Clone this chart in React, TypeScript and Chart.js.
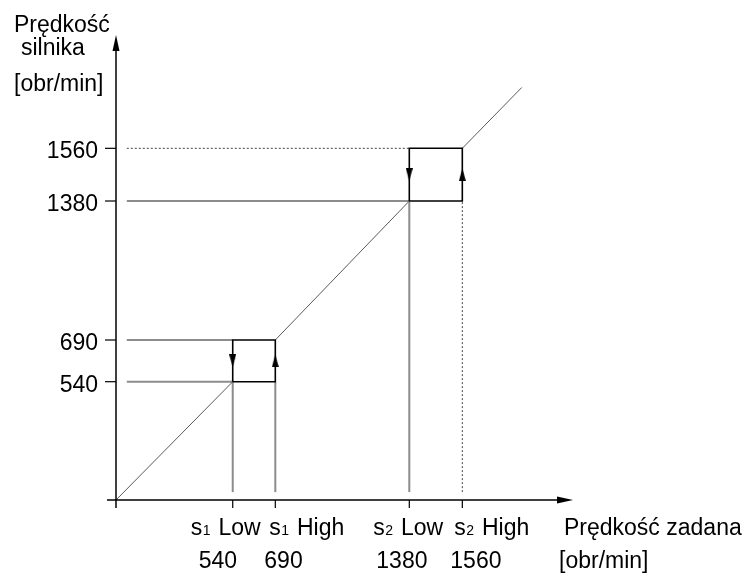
import React, { useEffect, useRef } from 'react';
import { Chart, registerables, LinearScale } from 'chart.js';

// ---- data ----
const thresholdValues = [540, 690, 1380, 1560];
const thresholdNames = ['s₁ Low', 's₁ High', 's₂ Low', 's₂ High'];
const yTickValues = [540, 690, 1380, 1560];
const hysteresisPairs = [
  [540, 690],
  [1380, 1560],
];
const diagonalEnd = 1764;
const guideStart = 50; // guides begin slightly right of the y axis
const guideFloor = 36; // vertical guides stop slightly above the x axis
const yTitleLines = ['Prędkość', 'silnika', '[obr/min]'];
const xTitleLines = ['Prędkość zadana', '[obr/min]'];
const axisMax = 1940;

// schematic (non-linear) axis layout: value knots -> fraction of axis length
const warpValues = [0, 540, 690, 1380, 1560, 1940];
const xWarpFractions = [0, 0.2554, 0.3486, 0.6418, 0.7578, 1];
const yWarpFractions = [0, 0.2544, 0.3441, 0.643, 0.7563, 1];

// ---- style ----
const FONT = "'Liberation Sans', Arial, sans-serif";
const FS = 23;
const labelOffsetsLine1 = [-42, -6, -36, -8];
const labelOffsetsLine2 = [-34, -11, -33, -12];

class WarpScale extends LinearScale {
  static id = 'warp';
  static defaults = {};
  warpDec(v: number): number {
    const k = warpValues;
    const f = this.id === 'x' ? xWarpFractions : yWarpFractions;
    for (let i = 1; i < k.length; i++) {
      if (v <= k[i] || i === k.length - 1) {
        return f[i - 1] + ((v - k[i - 1]) * (f[i] - f[i - 1])) / (k[i] - k[i - 1]);
      }
    }
    return 0;
  }
  getPixelForValue(v: number) {
    return this.getPixelForDecimal(this.warpDec(v));
  }
  getValueForPixel(p: number) {
    const d = this.getDecimalForPixel(p);
    const k = warpValues;
    const f = this.id === 'x' ? xWarpFractions : yWarpFractions;
    for (let i = 1; i < f.length; i++) {
      if (d <= f[i] || i === f.length - 1) {
        return k[i - 1] + ((d - f[i - 1]) * (k[i] - k[i - 1])) / (f[i] - f[i - 1]);
      }
    }
    return 0;
  }
}

Chart.register(...registerables, WarpScale as any);

const SUBS = '₀₁₂₃₄₅₆₇₈₉';

function drawRich(ctx: CanvasRenderingContext2D, text: string, x: number, y: number) {
  let cx = x;
  let run = '';
  const flush = () => {
    if (!run) return;
    ctx.font = `${FS}px ${FONT}`;
    ctx.fillText(run, cx, y);
    cx += ctx.measureText(run).width;
    run = '';
  };
  for (const ch of text) {
    const idx = SUBS.indexOf(ch);
    if (idx >= 0) {
      flush();
      ctx.font = `${Math.round(FS * 0.62)}px ${FONT}`;
      ctx.fillText(String(idx), cx + 0.5, y);
      cx += ctx.measureText(String(idx)).width + 2;
    } else {
      run += ch;
    }
  }
  flush();
}

function makeArrow(): HTMLCanvasElement {
  const c = document.createElement('canvas');
  c.width = 7;
  c.height = 13;
  const g = c.getContext('2d')!;
  g.fillStyle = '#000';
  g.beginPath();
  g.moveTo(3.5, 0);
  g.lineTo(7, 13);
  g.lineTo(0, 13);
  g.closePath();
  g.fill();
  return c;
}

const pt = (x: number, y: number) => ({ x, y });

const decorPlugin = {
  id: 'decor',
  afterDatasetsDraw(chart: any) {
    const ctx: CanvasRenderingContext2D = chart.ctx;
    const xs = chart.scales.x;
    const ys = chart.scales.y;
    const ox = xs.getPixelForValue(0);
    const oy = ys.getPixelForValue(0);
    const right = chart.chartArea.right;
    const top = chart.chartArea.top;
    ctx.save();
    ctx.strokeStyle = '#000';
    ctx.fillStyle = '#000';
    ctx.lineWidth = 1.5;
    // x axis
    ctx.beginPath();
    ctx.moveTo(ox - 9, oy);
    ctx.lineTo(right - 14, oy);
    ctx.stroke();
    ctx.beginPath();
    ctx.moveTo(right, oy);
    ctx.lineTo(right - 16, oy - 3.5);
    ctx.lineTo(right - 16, oy + 3.5);
    ctx.closePath();
    ctx.fill();
    // y axis
    ctx.beginPath();
    ctx.moveTo(ox, oy + 8);
    ctx.lineTo(ox, top + 14);
    ctx.stroke();
    ctx.beginPath();
    ctx.moveTo(ox, top);
    ctx.lineTo(ox - 3.5, top + 16);
    ctx.lineTo(ox + 3.5, top + 16);
    ctx.closePath();
    ctx.fill();
    // ticks
    ctx.lineWidth = 1.2;
    thresholdValues.forEach((v) => {
      const px = xs.getPixelForValue(v);
      ctx.beginPath();
      ctx.moveTo(px, oy);
      ctx.lineTo(px, oy + 8);
      ctx.stroke();
    });
    yTickValues.forEach((v) => {
      const py = ys.getPixelForValue(v);
      ctx.beginPath();
      ctx.moveTo(ox - 11, py);
      ctx.lineTo(ox, py);
      ctx.stroke();
    });
    // text
    ctx.textBaseline = 'alphabetic';
    ctx.textAlign = 'right';
    ctx.font = `${FS}px ${FONT}`;
    yTickValues.forEach((v) => {
      const py = ys.getPixelForValue(v);
      ctx.fillText(String(v), ox - 18, py + 10);
    });
    ctx.textAlign = 'left';
    thresholdValues.forEach((v, i) => {
      const px = xs.getPixelForValue(v);
      drawRich(ctx, thresholdNames[i], px + labelOffsetsLine1[i], oy + 35);
      ctx.font = `${FS}px ${FONT}`;
      ctx.fillText(String(v), px + labelOffsetsLine2[i], oy + 68);
    });
    ctx.font = `${FS}px ${FONT}`;
    ctx.fillText(yTitleLines[0], 14, 32);
    ctx.fillText(yTitleLines[1], 21, 55);
    ctx.fillText(yTitleLines[2], 14, 91);
    ctx.fillText(xTitleLines[0], right - 9, oy + 35);
    ctx.fillText(xTitleLines[1], right - 14, oy + 68);
    ctx.restore();
  },
};

export default function App() {
  const ref = useRef<HTMLCanvasElement>(null);
  useEffect(() => {
    const canvas = ref.current!;
    const arrow = makeArrow();
    const line = (data: any[], color: string, width: number, dash: number[] = []) => ({
      data,
      borderColor: color,
      borderWidth: width,
      borderDash: dash,
      pointRadius: 0,
      fill: false,
      tension: 0,
    });
    const datasets: any[] = [];
    // arrows on the hysteresis boxes
    datasets.push({
      data: hysteresisPairs.flatMap(([lo, hi]) => [pt(lo, (lo + hi) / 2), pt(hi, (lo + hi) / 2)]),
      showLine: false,
      pointStyle: arrow,
      pointRadius: 5,
      pointRotation: hysteresisPairs.flatMap(() => [180, 0]),
    });
    // hysteresis boxes
    hysteresisPairs.forEach(([lo, hi]) => {
      datasets.push(line([pt(lo, lo), pt(hi, lo), pt(hi, hi), pt(lo, hi), pt(lo, lo)], '#000', 1.6));
    });
    // diagonal characteristic
    datasets.push(line([pt(0, 0), pt(hysteresisPairs[0][0], hysteresisPairs[0][0])], '#5a5a5a', 1));
    datasets.push(line([pt(hysteresisPairs[0][1], hysteresisPairs[0][1]), pt(hysteresisPairs[1][0], hysteresisPairs[1][0])], '#5a5a5a', 1));
    datasets.push(line([pt(hysteresisPairs[1][1], hysteresisPairs[1][1]), pt(diagonalEnd, diagonalEnd)], '#5a5a5a', 1));
    // guide lines
    const [a, b] = hysteresisPairs;
    const gray = '#8c8c8c';
    datasets.push(line([pt(guideStart, a[0]), pt(a[0], a[0])], gray, 2));
    datasets.push(line([pt(guideStart, a[1]), pt(a[0], a[1])], gray, 2));
    datasets.push(line([pt(a[0], guideFloor), pt(a[0], a[0])], gray, 2));
    datasets.push(line([pt(a[1], guideFloor), pt(a[1], a[0])], gray, 2));
    datasets.push(line([pt(guideStart, b[0]), pt(b[0], b[0])], gray, 2));
    datasets.push(line([pt(b[0], guideFloor), pt(b[0], b[0])], gray, 2));
    datasets.push(line([pt(guideStart, b[1]), pt(b[0], b[1])], '#444', 1, [2, 2]));
    datasets.push(line([pt(b[1], guideFloor), pt(b[1], b[0])], '#444', 1, [2, 2]));

    const chart = new Chart(canvas, {
      type: 'line',
      data: { datasets },
      options: {
        animation: false,
        responsive: false,
        events: [],
        layout: { padding: { left: 116, right: 179, top: 35, bottom: 75 } },
        scales: {
          x: { type: 'warp' as any, min: 0, max: axisMax, display: false },
          y: { type: 'warp' as any, min: 0, max: axisMax, display: false },
        },
        plugins: { legend: { display: false }, tooltip: { enabled: false } },
      },
      plugins: [decorPlugin],
    });
    return () => chart.destroy();
  }, []);
  return (
    <div style={{ position: 'fixed', left: 0, top: 0, width: 752, height: 575, background: '#fff' }}>
      <canvas ref={ref} width={752} height={575} style={{ display: 'block' }} />
    </div>
  );
}
